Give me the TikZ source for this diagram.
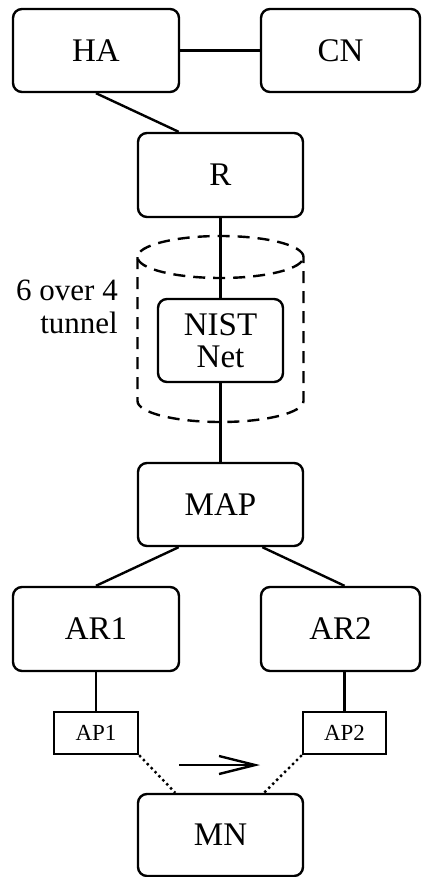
\documentclass[tikz,border=0pt]{standalone}
\usepackage{fontspec}
\setmainfont{Liberation Serif}
\usetikzlibrary{calc,arrows.meta}

\tikzset{
  box/.style={draw, rounded corners=9pt, inner sep=0pt, align=center,
    font=\fontsize{33}{32}\selectfont},
  apbox/.style={draw, inner sep=0pt, font=\fontsize{23}{26}\selectfont},
  link/.style={line width=2.4pt},
  radio/.style={line width=2.4pt, dash pattern=on 2.4pt off 3.2pt},
  tunnelline/.style={line width=2.4pt, dash pattern=on 12pt off 8pt},
}

\begin{document}
\begin{tikzpicture}[x=1pt, y=-1pt, line width=2.4pt]
\useasboundingbox (0,0) rectangle (421,877);

% core network
\node[box, minimum width=166pt, minimum height=83pt] (HA) at (96,50.5) {HA};
\node[box, minimum width=159pt, minimum height=83pt] (CN) at (340.5,50.5) {CN};
\node[box, minimum width=165pt, minimum height=84pt] (R) at (220.5,175) {R};

% emulated link inside the tunnel
\node[box, minimum width=125pt, minimum height=83pt] (NIST) at (220.5,340.5) {NIST\\Net};

% access network
\node[box, minimum width=165pt, minimum height=83pt] (MAP) at (220.5,504.5) {MAP};
\node[box, minimum width=166pt, minimum height=84pt] (AR1) at (96,629) {AR1};
\node[box, minimum width=159pt, minimum height=84pt] (AR2) at (340.5,629) {AR2};
\node[apbox, minimum width=84pt, minimum height=42pt] (AP1) at (96,733) {AP1};
\node[apbox, minimum width=83pt, minimum height=42pt] (AP2) at (344.5,733) {AP2};
\node[box, minimum width=165pt, minimum height=82pt] (MN) at (220.5,835) {MN};

% 6-over-4 tunnel drawn as a dashed cylinder
\draw[tunnelline] (220.5,257) ellipse [x radius=83pt, y radius=21pt];
\draw[tunnelline] (137.5,257) -- (137.5,401)
  arc[start angle=180, end angle=360, x radius=83pt, y radius=21pt] -- (303.5,257);
\node[anchor=east, align=right, inner sep=0pt,
  font=\fontsize{31}{33}\selectfont] (tunnel) at (119,307) {6 over 4\\tunnel};

% wired links
\draw[link] (HA.east) -- (CN.west);
\draw[link] (HA.south) -- ($(R.north west)!0.25!(R.north east)$);
\draw[link] (R.south) -- (NIST.north);
\draw[link] (NIST.south) -- (MAP.north);
\draw[link] ($(MAP.south west)!0.25!(MAP.south east)$) -- (AR1.north);
\draw[link] ($(MAP.south west)!0.75!(MAP.south east)$) -- (AR2.north -| AP2.north);
\draw[link] (AR1.south -| AP1.north) -- (AP1.north);
\draw[link] (AR2.south -| AP2.north) -- (AP2.north);

% wireless links
\draw[radio] (AP1.south east) -- ($(MN.north west)!0.23!(MN.north east)$);
\draw[radio] (AP2.south west) -- ($(MN.north west)!0.76!(MN.north east)$);

% handover direction
\coordinate (hoStart) at (179,765);
\coordinate (hoEnd) at (260,765);
\draw[link, -{Straight Barb[length=36pt, width=18pt, line width=2.4pt]}] (hoStart) -- (hoEnd);
\end{tikzpicture}
\end{document}
